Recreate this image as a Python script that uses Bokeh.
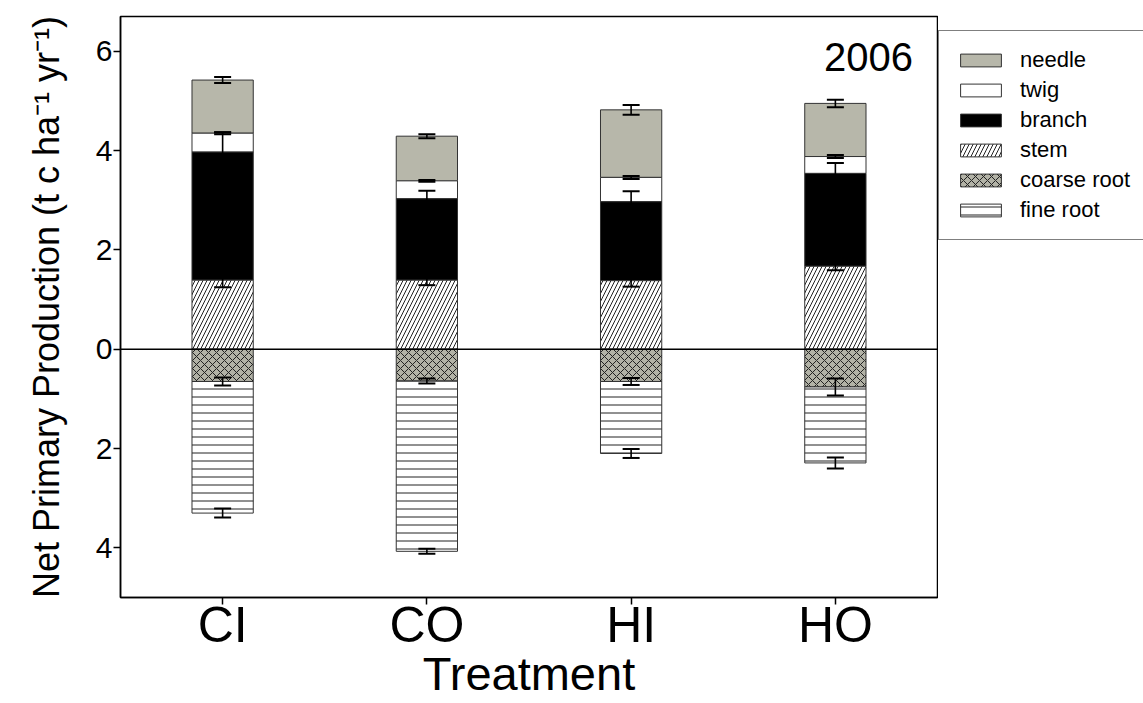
import numpy as np
from bokeh.plotting import figure
from bokeh.layouts import row
from bokeh.models import (Range1d, FixedTicker, CustomJSTickFormatter, ColumnDataSource,
                          Whisker, TeeHead, Span, Label, Legend, LegendItem)
from bokeh.embed import file_html
from bokeh.resources import INLINE

# ---- data (t C ha-1 yr-1) ----
treatments = ["CI", "CO", "HI", "HO"]
# above-ground components (positive, stacked upward: stem, branch, twig, needle)
stem = [1.39, 1.39, 1.38, 1.67]
branch = [2.58, 1.64, 1.59, 1.87]
twig = [0.38, 0.36, 0.49, 0.34]
needle = [1.07, 0.90, 1.36, 1.07]
# below-ground components (plotted downward: coarse root, fine root)
coarse_root = [0.65, 0.64, 0.65, 0.76]
fine_root = [2.65, 3.43, 1.45, 1.53]
# standard errors
stem_err = [0.14, 0.10, 0.12, 0.08]
branch_err = [0.40, 0.16, 0.21, 0.21]
twig_err = [0.02, 0.02, 0.03, 0.03]
needle_err = [0.06, 0.04, 0.10, 0.075]
coarse_err = [0.08, 0.05, 0.07, 0.17]
fine_err = [0.09, 0.05, 0.09, 0.11]
y_ticks = [-4, -2, 0, 2, 4, 6]
year_label = "2006"
legend_labels = ["needle", "twig", "branch", "stem", "coarse root", "fine root"]

FONT = "Liberation Sans"

p = figure(x_range=treatments, y_range=Range1d(-5, 6.7), width=938, height=703,
           output_backend="svg", toolbar_location=None, title=None,
           min_border_left=120, min_border_right=1, min_border_top=16, min_border_bottom=106)
p.background_fill_color = "white"
p.border_fill_color = "white"
p.outline_line_color = "black"
p.outline_line_width = 1.5
p.xgrid.visible = False
p.ygrid.visible = False

# stacking
s0 = np.zeros(4)
s1 = s0 + np.array(stem)
s2 = s1 + np.array(branch)
s3 = s2 + np.array(twig)
s4 = s3 + np.array(needle)
c1 = s0 - np.array(coarse_root)
c2 = c1 - np.array(fine_root)

# styles for each component (same order as legend_labels)
styles = [
    dict(fill_color="#b7b7aa"),
    dict(fill_color="white"),
    dict(fill_color="black"),
    dict(fill_color="white", hatch_pattern="right_diagonal_line", hatch_color="#222222",
         hatch_scale=8, hatch_weight=1),
    dict(fill_color="#b2b2a6", hatch_pattern="diagonal_cross", hatch_color="#222222",
         hatch_scale=8, hatch_weight=1),
    dict(fill_color="white", hatch_pattern="horizontal_line", hatch_color="#222222",
         hatch_scale=8, hatch_weight=1),
]
bottoms = [s3, s2, s1, s0, c1, c2]
tops = [s4, s3, s2, s1, s0, c1]

W = 0.3
for b, t, st in zip(bottoms, tops, styles):
    p.vbar(x=treatments, width=W, bottom=b, top=t, line_color="#333333", line_width=1, **st)

# zero line
p.add_layout(Span(location=0, dimension="width", line_color="black", line_width=1.5))

# error bars
bx, bc, be = [], [], []
for centers, errs in [(s1, stem_err), (s2, branch_err), (s3, twig_err), (s4, needle_err),
                      (c1, coarse_err), (c2, fine_err)]:
    bx += treatments
    bc += list(centers)
    be += list(errs)
bc = np.array(bc)
be = np.array(be)
esrc = ColumnDataSource(dict(x=bx, upper=bc + be, lower=bc - be))
wh = Whisker(source=esrc, base="x", upper="upper", lower="lower", dimension="height",
             line_color="black", line_width=1.6, level="overlay",
             upper_head=TeeHead(size=17, line_color="black", line_width=2),
             lower_head=TeeHead(size=17, line_color="black", line_width=2))
p.add_layout(wh)

# year label
p.add_layout(Label(x=3.88, y=5.88, text=year_label, text_align="right", text_baseline="alphabetic",
                   text_font=FONT, text_font_size="40px", text_color="black"))

# axes
ya = p.yaxis[0]
ya.ticker = FixedTicker(ticks=y_ticks)
ya.formatter = CustomJSTickFormatter(code="return Math.abs(tick).toFixed(0);")
ya.major_tick_out = 7
ya.major_tick_in = 0
ya.minor_tick_out = 0
ya.minor_tick_in = 0
ya.axis_line_width = 1.5
ya.major_tick_line_width = 1.5
ya.major_label_text_font = FONT
ya.major_label_text_font_size = "30px"
ya.major_label_text_color = "black"
ya.major_label_standoff = 1
ya.axis_label = "Net Primary Production (t c ha\u207b\u00b9 yr\u207b\u00b9)"
ya.axis_label_text_font = FONT
ya.axis_label_text_font_size = "36px"
ya.axis_label_text_font_style = "normal"
ya.axis_label_text_color = "black"
ya.axis_label_standoff = 26

xa = p.xaxis[0]
xa.major_tick_out = 7
xa.major_tick_in = 0
xa.axis_line_width = 1.5
xa.major_tick_line_width = 1.5
xa.major_label_text_font = FONT
xa.major_label_text_font_size = "50px"
xa.major_label_text_color = "black"
xa.major_label_standoff = -8
xa.axis_label = "Treatment"
xa.axis_label_text_font = FONT
xa.axis_label_text_font_size = "47px"
xa.axis_label_text_font_style = "normal"
xa.axis_label_text_color = "black"
xa.axis_label_standoff = -9

# legend panel (separate canvas to the right of the plot frame)
q = figure(width=205, height=703, output_backend="svg", toolbar_location=None, title=None,
           x_axis_location=None, y_axis_location=None, min_border=0,
           x_range=Range1d(0, 1), y_range=Range1d(0, 1))
q.outline_line_color = None
q.xgrid.visible = False
q.ygrid.visible = False
q.background_fill_color = "white"
q.border_fill_color = "white"
items = []
for lab, st in zip(legend_labels, styles):
    # proxy bar placed outside the visible range: only its legend swatch is shown
    r = q.vbar(x=[5.0], width=0.1, bottom=[5.0], top=[6.0], line_color="#333333",
               line_width=1, **st)
    items.append(LegendItem(label=lab, renderers=[r]))
leg = Legend(items=items, location=(0, 357), orientation="vertical",
             glyph_width=51, glyph_height=16, label_standoff=14, spacing=4,
             padding=16, margin=0, label_height=24,
             label_text_font=FONT, label_text_font_size="22px", label_text_color="black",
             border_line_color="black", border_line_width=1.2,
             background_fill_color="white", background_fill_alpha=1.0)
q.add_layout(leg, "center")

layout = row(p, q, spacing=0)
open("out.html", "w").write(file_html(layout, INLINE))
